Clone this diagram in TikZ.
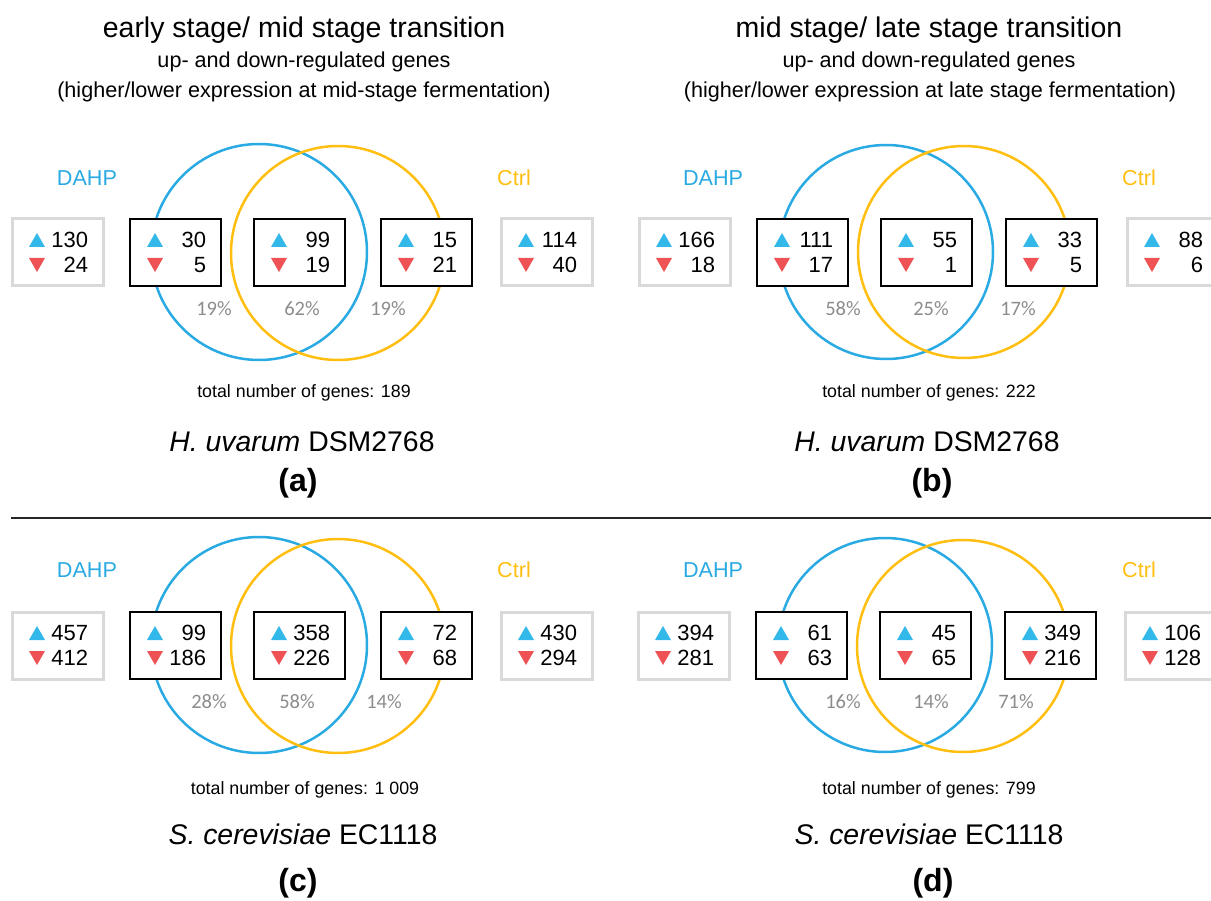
\documentclass[tikz,border=0pt]{standalone}
\usepackage{fontspec}
\setmainfont{Liberation Sans}
\newfontfamily\pctfont{Carlito}
\definecolor{dahpblue}{HTML}{2AAAE2}
\definecolor{upblue}{HTML}{33B8EA}
\definecolor{ctrlyellow}{HTML}{FFBE10}
\definecolor{downred}{HTML}{EE5255}
\definecolor{boxgray}{HTML}{D9D9D9}
\definecolor{pctgray}{HTML}{8C8C8C}
\tikzset{
  every node/.style={inner sep=0pt, outer sep=0pt},
  titletxt/.style={font=\fontsize{28.5}{30}\selectfont},
  subtxt/.style={font=\fontsize{21.6}{24}\selectfont},
  dahptxt/.style={font=\fontsize{21.6}{24}\selectfont, text=dahpblue},
  ctrltxt/.style={font=\fontsize{21.6}{24}\selectfont, text=ctrlyellow},
  numtxt/.style={font=\fontsize{22}{24}\selectfont, anchor=east},
  pcttxt/.style={font=\pctfont\fontsize{20.5}{22}\selectfont, text=pctgray},
  tottxt/.style={font=\fontsize{17.8}{20}\selectfont},
  spectxt/.style={font=\fontsize{28.4}{30}\selectfont},
  paneltxt/.style={font=\bfseries\fontsize{32}{34}\selectfont},
  blackbox/.style={draw=black, line width=2.4pt, fill=white, minimum width=91pt, minimum height=67pt, anchor=north west},
  graybox/.style={draw=boxgray, line width=3pt, fill=white, minimum width=91pt, minimum height=67pt, anchor=north west},
  bluering/.style={draw=dahpblue, line width=2.5pt},
  yellowring/.style={draw=ctrlyellow, line width=2.5pt},
}
% #1 name, #2 style, #3 left x, #4 top y, #5 up, #6 down
\newcommand\countbox[6]{%
  \node[#2] (#1) at (#3,#4) {};
  \fill[upblue] ({#3+25-8},{#4+21+7}) -- ({#3+25+8},{#4+21+7}) -- ({#3+25},{#4+21-7}) -- cycle;
  \fill[downred] ({#3+25-8},{#4+46-7}) -- ({#3+25+8},{#4+46-7}) -- ({#3+25},{#4+46+7}) -- cycle;
  \node[numtxt] (#1u) at ({#3+91-15},{#4+21}) {#5};
  \node[numtxt] (#1d) at ({#3+91-15},{#4+46}) {#6};
}
\begin{document}
\begin{tikzpicture}[x=1pt, y=-1pt]
\useasboundingbox (0,0) rectangle (1211,901);
\clip (0,0) rectangle (1211,901);

% ---------- panel (a) ----------
\node[titletxt] (ta) at (304,30) {early stage/ mid stage transition};
\node[subtxt] (sa1) at (304,62) {up- and down-regulated genes};
\node[subtxt] (sa2) at (304,92) {(higher/lower expression at mid-stage fermentation)};
\node[dahptxt] (da) at (87,178) {DAHP};
\node[ctrltxt] (ca) at (514,178) {Ctrl};
\draw[bluering] (259,252) circle[radius=108pt];
\draw[yellowring] (338,253) circle[radius=107pt];
\countbox{a1}{graybox}{12}{219}{130}{24}
\countbox{a2}{blackbox}{130}{219}{30}{5}
\countbox{a3}{blackbox}{254}{219}{99}{19}
\countbox{a4}{blackbox}{381}{219}{15}{21}
\countbox{a5}{graybox}{501}{219}{114}{40}
\node[pcttxt] (pa1) at (214,309) {19\%};
\node[pcttxt] (pa2) at (302,309) {62\%};
\node[pcttxt] (pa3) at (388,309) {19\%};
\node[tottxt] (tota) at (304,393) {total number of genes: 189};
\node[spectxt] (spa) at (302,442) {\itshape H. uvarum\/\upshape{} DSM2768};
\node[paneltxt] (la) at (298,483) {(a)};

% ---------- panel (b) ----------
\node[titletxt] (tb) at (929,30) {mid stage/ late stage transition};
\node[subtxt] (sb1) at (929,62) {up- and down-regulated genes};
\node[subtxt] (sb2) at (930,92) {(higher/lower expression at late stage fermentation)};
\node[dahptxt] (db) at (713,178) {DAHP};
\node[ctrltxt] (cb) at (1139,178) {Ctrl};
\draw[bluering] (886,252) circle[radius=107pt];
\draw[yellowring] (964,252) circle[radius=106pt];
\countbox{b1}{graybox}{639}{219}{166}{18}
\countbox{b2}{blackbox}{757}{219}{111}{17}
\countbox{b3}{blackbox}{881}{219}{55}{1}
\countbox{b4}{blackbox}{1006}{219}{33}{5}
\countbox{b5}{graybox}{1127}{219}{88}{6}
\node[pcttxt] (pb1) at (843,309) {58\%};
\node[pcttxt] (pb2) at (931,309) {25\%};
\node[pcttxt] (pb3) at (1018,309) {17\%};
\node[tottxt] (totb) at (929,393) {total number of genes: 222};
\node[spectxt] (spb) at (927,442) {\itshape H. uvarum\/\upshape{} DSM2768};
\node[paneltxt] (lb) at (932,483) {(b)};

% ---------- separator ----------
\coordinate (sepL) at (11,518);
\coordinate (sepR) at (1211,518);
\draw[line width=1.5pt, draw=black!85] (sepL) -- (sepR);

% ---------- panel (c) ----------
\node[dahptxt] (dc) at (87,570) {DAHP};
\node[ctrltxt] (cc) at (514,570) {Ctrl};
\draw[bluering] (259,645) circle[radius=108pt];
\draw[yellowring] (338,646) circle[radius=107pt];
\countbox{c1}{graybox}{12}{612}{457}{412}
\countbox{c2}{blackbox}{130}{612}{99}{186}
\countbox{c3}{blackbox}{254}{612}{358}{226}
\countbox{c4}{blackbox}{381}{612}{72}{68}
\countbox{c5}{graybox}{501}{612}{430}{294}
\node[pcttxt] (pc1) at (209,702) {28\%};
\node[pcttxt] (pc2) at (297,702) {58\%};
\node[pcttxt] (pc3) at (384,702) {14\%};
\node[tottxt] (totc) at (305,790) {total number of genes: 1 009};
\node[spectxt] (spc) at (303,834) {\itshape S. cerevisiae\/\upshape{} EC1118};
\node[paneltxt] (lc) at (298,883) {(c)};

% ---------- panel (d) ----------
\node[dahptxt] (dd) at (713,570) {DAHP};
\node[ctrltxt] (cd) at (1139,570) {Ctrl};
\draw[bluering] (885,645) circle[radius=107pt];
\draw[yellowring] (963,646) circle[radius=106pt];
\countbox{d1}{graybox}{638}{612}{394}{281}
\countbox{d2}{blackbox}{756}{612}{61}{63}
\countbox{d3}{blackbox}{880}{612}{45}{65}
\countbox{d4}{blackbox}{1005}{612}{349}{216}
\countbox{d5}{graybox}{1125}{612}{106}{128}
\node[pcttxt] (pd1) at (843,702) {16\%};
\node[pcttxt] (pd2) at (931,702) {14\%};
\node[pcttxt] (pd3) at (1016,702) {71\%};
\node[tottxt] (totd) at (929,790) {total number of genes: 799};
\node[spectxt] (spd) at (929,834) {\itshape S. cerevisiae\/\upshape{} EC1118};
\node[paneltxt] (ld) at (933,883) {(d)};
\end{tikzpicture}
\end{document}
